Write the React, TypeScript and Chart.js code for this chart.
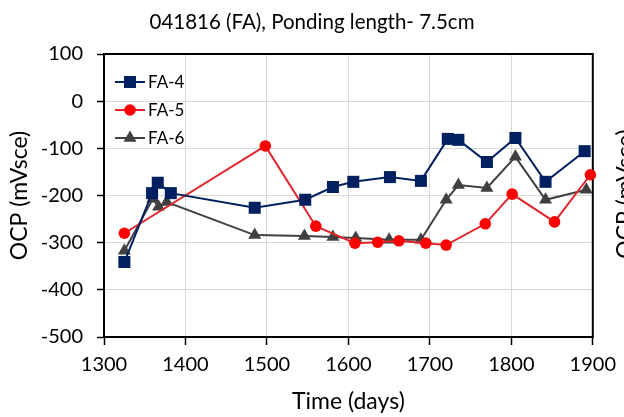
import React, { useEffect, useRef } from 'react';
import { Chart, registerables } from 'chart.js';

Chart.register(...registerables);

const FONT = 'Lato, "Open Sans", "DejaVu Sans", sans-serif';

const TITLE = '041816 (FA), Ponding length- 7.5cm';
const X_TITLE = 'Time (days)';
const Y_TITLE = 'OCP (mVsce)';
const SERIES_LABELS = ['FA-4', 'FA-5', 'FA-6'];

const X_MIN = 1300;
const X_MAX = 1900;
const X_STEP = 100;
const Y_MIN = -500;
const Y_MAX = 100;
const Y_STEP = 100;

const fa4Days = [1325, 1359, 1366, 1382, 1485, 1547, 1581, 1606, 1651, 1689, 1722, 1735, 1770, 1805, 1842, 1890];
const fa4Ocp = [-341, -195, -173, -195, -226, -209, -182, -171, -161, -169, -80, -82, -129, -78, -171, -106];

const fa5Days = [1325, 1498, 1560, 1608, 1636, 1662, 1695, 1720, 1768, 1801, 1853, 1897];
const fa5Ocp = [-280, -95, -265, -301, -299, -296, -301, -305, -260, -197, -256, -156];

const fa6Days = [1325, 1360, 1367, 1377, 1485, 1546, 1581, 1609, 1650, 1689, 1720, 1735, 1770, 1805, 1842, 1892];
const fa6Ocp = [-317, -207, -224, -214, -284, -286, -288, -290, -294, -294, -209, -178, -184, -118, -209, -188];

const toPoints = (xs: number[], ys: number[]) => xs.map((x, i) => ({ x, y: ys[i] }));

function drawMarker(ctx: CanvasRenderingContext2D, style: string, x: number, y: number, r: number) {
  ctx.beginPath();
  if (style === 'rect') {
    const s = Math.SQRT1_2 * r;
    ctx.rect(x - s, y - s, 2 * s, 2 * s);
  } else if (style === 'triangle') {
    for (let k = 0; k < 3; k++) {
      const a = (k * 2 * Math.PI) / 3;
      const px = x + Math.sin(a) * r;
      const py = y - Math.cos(a) * r;
      if (k === 0) ctx.moveTo(px, py);
      else ctx.lineTo(px, py);
    }
    ctx.closePath();
  } else {
    ctx.arc(x, y, r, 0, Math.PI * 2);
  }
  ctx.fill();
}

const framePlugin = {
  id: 'frame',
  beforeDatasetsDraw(chart: any) {
    const { ctx, chartArea } = chart;
    ctx.save();
    ctx.strokeStyle = '#000';
    ctx.lineWidth = 2;
    ctx.strokeRect(chartArea.left, chartArea.top, chartArea.right - chartArea.left, chartArea.bottom - chartArea.top);
    ctx.restore();
  },
};

const legendPlugin = {
  id: 'insideLegend',
  afterDatasetsDraw(chart: any) {
    const { ctx, chartArea } = chart;
    ctx.save();
    const x0 = chartArea.left + 11;
    const y0 = chartArea.top + 28;
    const gap = 28;
    chart.data.datasets.forEach((ds: any, i: number) => {
      const y = y0 + i * gap;
      ctx.strokeStyle = ds.borderColor;
      ctx.lineWidth = ds.borderWidth;
      ctx.beginPath();
      ctx.moveTo(x0, y);
      ctx.lineTo(x0 + 30, y);
      ctx.stroke();
      ctx.fillStyle = ds.pointBackgroundColor;
      drawMarker(ctx, ds.pointStyle, x0 + 15, y, ds.pointRadius);
      ctx.fillStyle = '#000';
      ctx.font = `17px ${FONT}`;
      ctx.textAlign = 'left';
      ctx.textBaseline = 'middle';
      ctx.fillText(ds.label, x0 + 33, y + 1);
    });
    ctx.restore();
  },
};

const textPlugin = {
  id: 'extraText',
  afterDraw(chart: any) {
    const { ctx, width } = chart;
    ctx.save();
    ctx.fillStyle = '#000';
    ctx.textAlign = 'center';
    ctx.textBaseline = 'middle';
    // chart title, centred on the canvas
    ctx.font = `20.5px ${FONT}`;
    ctx.fillText(TITLE, width / 2, 22);
    // cut-off axis title of the neighbouring chart
    ctx.translate(626, 194);
    ctx.rotate(-Math.PI / 2);
    ctx.font = `23px ${FONT}`;
    ctx.fillText(Y_TITLE, 0, 0);
    ctx.restore();
  },
};

export default function App() {
  const ref = useRef<HTMLCanvasElement>(null);

  useEffect(() => {
    document.body.style.margin = '0';
    const chart = new Chart(ref.current as HTMLCanvasElement, {
      type: 'line',
      data: {
        datasets: [
          {
            label: SERIES_LABELS[0],
            data: toPoints(fa4Days, fa4Ocp),
            borderColor: '#002060',
            backgroundColor: '#002060',
            pointBackgroundColor: '#002060',
            pointBorderColor: '#002060',
            pointStyle: 'rect',
            pointRadius: 8.5,
            borderWidth: 2,
            pointBorderWidth: 0,
            clip: false,
          } as any,
          {
            label: SERIES_LABELS[1],
            data: toPoints(fa5Days, fa5Ocp),
            borderColor: '#e3242b',
            backgroundColor: '#ff0000',
            pointBackgroundColor: '#ff0000',
            pointBorderColor: '#ff0000',
            pointStyle: 'circle',
            pointRadius: 5.8,
            borderWidth: 2,
            pointBorderWidth: 0,
            clip: false,
          } as any,
          {
            label: SERIES_LABELS[2],
            data: toPoints(fa6Days, fa6Ocp),
            borderColor: '#404040',
            backgroundColor: '#404040',
            pointBackgroundColor: '#404040',
            pointBorderColor: '#404040',
            pointStyle: 'triangle',
            pointRadius: 7.5,
            borderWidth: 2,
            pointBorderWidth: 0,
            clip: false,
          } as any,
        ],
      },
      options: {
        responsive: true,
        maintainAspectRatio: false,
        animation: false,
        layout: { padding: { left: 0, right: 25, top: 54, bottom: 0 } },
        plugins: {
          legend: { display: false },
          tooltip: { enabled: false },
          title: { display: false },
        },
        scales: {
          x: {
            type: 'linear',
            min: X_MIN,
            max: X_MAX,
            ticks: {
              stepSize: X_STEP,
              color: '#000',
              font: { family: FONT, size: 20 },
              padding: 8,
              callback: (v: any) => String(v),
            },
            grid: { color: '#d9d9d9', tickColor: '#000', tickLength: 8, tickWidth: 1.5 },
            border: { color: '#000', width: 2 },
            title: {
              display: true,
              text: X_TITLE,
              color: '#000',
              font: { family: FONT, size: 23 },
              padding: { top: 4, bottom: 2 },
            },
            afterFit: (s: any) => {
              s.height = 80;
            },
          },
          y: {
            type: 'linear',
            min: Y_MIN,
            max: Y_MAX,
            ticks: {
              stepSize: Y_STEP,
              color: '#000',
              font: { family: FONT, size: 20 },
              padding: 14,
              callback: (v: any) => String(v),
            },
            grid: { color: '#d9d9d9', tickColor: '#000', tickLength: 7, tickWidth: 1.5 },
            border: { color: '#000', width: 2 },
            title: {
              display: true,
              text: Y_TITLE,
              color: '#000',
              font: { family: FONT, size: 23 },
              padding: { top: 6, bottom: 4 },
            },
            afterFit: (s: any) => {
              s.width = 104;
            },
          },
        },
      },
      plugins: [framePlugin, legendPlugin, textPlugin],
    });
    return () => chart.destroy();
  }, []);

  return (
    <div style={{ position: 'relative', width: 624, height: 417 }}>
      <canvas ref={ref} />
    </div>
  );
}
